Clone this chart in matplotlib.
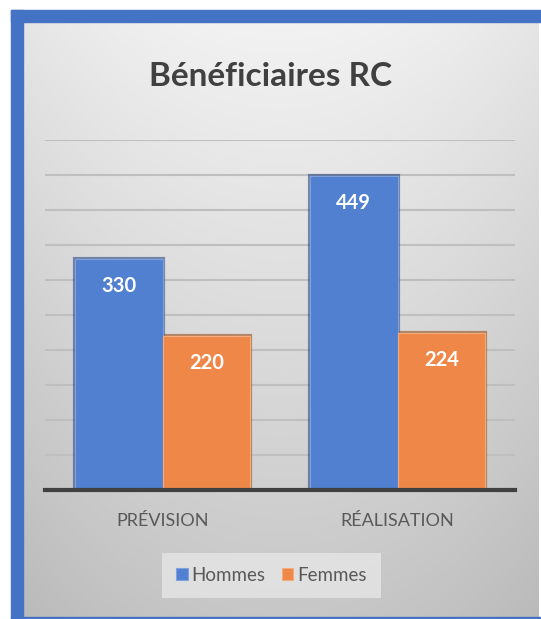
import numpy as np
import matplotlib.pyplot as plt
from matplotlib.patches import Rectangle

# data
categories = ['PRÉVISION', 'RÉALISATION']
series_names = ['Hommes', 'Femmes']
hommes = [330, 449]
femmes = [220, 224]
title = 'Bénéficiaires RC'

W, H = 541, 619
plt.rcParams['font.family'] = ['Lato', 'DejaVu Sans']

fig = plt.figure(figsize=(W / 100, H / 100), dpi=100)
fig.patch.set_facecolor('white')

# gray gradient background of the chart area
bg = fig.add_axes([23 / W, 2 / H, 516 / W, 595 / H])
yy, xx = np.mgrid[0:1:300j, -1:1:300j]
shade = 0.95 - 0.17 * yy - 0.05 * xx ** 2
bg.imshow(np.dstack([shade] * 3), aspect='auto', extent=[0, 1, 0, 1])
bg.axis('off')

# blue frame (left, top, bottom)
blue = '#4472C4'
fig.patches.append(Rectangle((11 / W, 0), 12 / W, 609 / H, transform=fig.transFigure, color=blue))
fig.patches.append(Rectangle((11 / W, (619 - 22) / H), 530 / W, 12 / H, transform=fig.transFigure, color=blue))
fig.patches.append(Rectangle((11 / W, 0), 530 / W, 2 / H, transform=fig.transFigure, color=blue))

ax = fig.add_axes([45 / W, (619 - 490) / H, 470 / W, 350 / H])
ax.patch.set_alpha(0)

x = np.arange(len(categories))
w = 0.374
# soft shadow, then the bar itself (bevel look)
ax.bar(x - w / 2, hommes, w, color='none', edgecolor='#2a4a85', linewidth=3, zorder=2, alpha=0.6)
ax.bar(x + w / 2, femmes, w, color='none', edgecolor='#9a4e1a', linewidth=3, zorder=2, alpha=0.6)
b1 = ax.bar(x - w / 2, hommes, w, color='#5080CF', edgecolor='#7fa2de', linewidth=0.8, zorder=3)
b2 = ax.bar(x + w / 2, femmes, w, color='#EF8748', edgecolor='#f5ad7d', linewidth=0.8, zorder=3)

for bars in (b1, b2):
    for r in bars:
        ax.annotate(f'{int(r.get_height())}', (r.get_x() + r.get_width() / 2, r.get_height()),
                    xytext=(0, -19.5), textcoords='offset points', ha='center', va='center',
                    color='white', fontsize=14.5, fontweight='bold', zorder=4)

ax.set_xlim(-0.5, 1.5)
ax.set_ylim(0, 500)
for v in range(50, 501, 50):
    ax.axhline(v, color='#bfbfbf', lw=1.5, zorder=1)
for s in ['top', 'right', 'left']:
    ax.spines[s].set_visible(False)
ax.spines['bottom'].set_color('#404040')
ax.spines['bottom'].set_linewidth(3)
ax.spines['bottom'].set_zorder(5)
ax.set_yticks([])
ax.set_xticks([])
for i, c in enumerate(categories):
    ax.text(i, -31 / 350, c, transform=ax.get_xaxis_transform(), ha='center', va='center',
            fontsize=13, color='#595959')

fig.text(271 / W, 1 - 76 / H, title, ha='center', va='center', fontsize=24,
         fontweight='bold', color='#404040')

leg = fig.legend([b1, b2], series_names, loc='center', bbox_to_anchor=(271.5 / W, 1 - 575.5 / H),
                 ncol=2, fontsize=13.5, handlelength=0.6, handleheight=0.6, handletextpad=0.2,
                 columnspacing=0.9, frameon=True, fancybox=False, borderpad=0.75)
leg.get_frame().set_facecolor('#e6e6e6')
leg.get_frame().set_edgecolor('none')
for t in leg.get_texts():
    t.set_color('#595959')

fig.savefig('out.png', dpi=100)
